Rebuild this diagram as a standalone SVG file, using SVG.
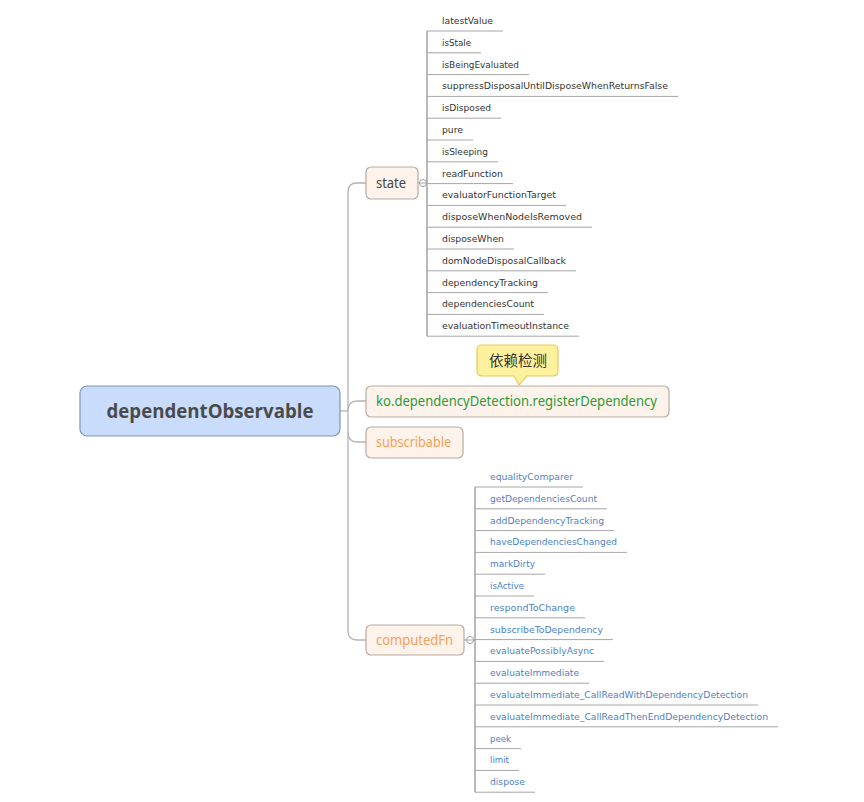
<svg xmlns="http://www.w3.org/2000/svg" width="864" height="802" viewBox="0 0 864 802">
<style>
.bg{fill:#ffffff}
.conn{fill:none;stroke:#b4b4b4;stroke-width:1.3}
.vline{fill:none;stroke:#8a8a8a;stroke-width:1.2}
.uline{fill:none;stroke:#a6a6a6;stroke-width:1}
.toggle{fill:#ffffff;stroke:#a0a0a0;stroke-width:1}
.root{fill:#c9dcfb;stroke:#7f93b3;stroke-width:1.2}
.sub{fill:#fdf3ea;stroke:#b5aca3;stroke-width:1.2}
.callout{fill:#fdf19d;stroke:#ebc75f;stroke-width:1.2}
.rootT{font-family:"Open Sans","Noto Sans",sans-serif;font-weight:bold;font-size:19px;fill:#4a4a4a}
.subT{font-family:"Noto Sans","Open Sans",sans-serif;font-size:14px}
.leaf{font-family:"DejaVu Sans","Liberation Sans",sans-serif;font-size:9px;fill:#333333}
.leafB{font-family:"DejaVu Sans","Liberation Sans",sans-serif;font-size:9px;fill:#4d7fc6}
.cjk{font-family:"Noto Sans CJK SC",sans-serif;font-size:14.5px;fill:#333333}
</style>
<rect class="bg" x="0" y="0" width="864" height="802"/>

<g id="connectors">
  <path class="conn" d="M340,411 H348"/>
  <path class="conn" d="M366,183 H357 Q348,183 348,192 V631 Q348,640 357,640 H366"/>
  <path class="conn" d="M348,411 Q348,401 357,401 H366"/>
  <path class="conn" d="M348,432 Q348,442 357,442 H366"/>
  <!-- state branch -->
  <path class="conn" d="M418,183 H427"/>
  <path class="vline" d="M427,31 V336.2"/>
  <!-- computedFn branch -->
  <path class="conn" d="M464,640 H475"/>
  <path class="vline" d="M475,487 V792.2"/>
</g>

<g id="root">
  <rect class="root" x="80" y="386" width="260" height="50" rx="7"/>
  <text class="rootT" x="210" y="418" text-anchor="middle" textLength="207" lengthAdjust="spacingAndGlyphs">dependentObservable</text>
</g>

<g id="state">
  <rect class="sub" x="366" y="167" width="52" height="32" rx="5"/>
  <text class="subT" x="391" y="188" text-anchor="middle" fill="#444444" textLength="30" lengthAdjust="spacingAndGlyphs">state</text>
  <circle class="toggle" cx="423" cy="183" r="3.5"/>
  <path class="uline" d="M419.5,183 H426.5"/>
</g>

<g id="state-children">
  <path class="uline" d="M427,31 H503"/><text class="leaf" x="442" y="24" textLength="51" lengthAdjust="spacingAndGlyphs">latestValue</text>
  <path class="uline" d="M427,52.8 H481"/><text class="leaf" x="442" y="45.8" textLength="29" lengthAdjust="spacingAndGlyphs">isStale</text>
  <path class="uline" d="M427,74.6 H529"/><text class="leaf" x="442" y="67.6" textLength="77" lengthAdjust="spacingAndGlyphs">isBeingEvaluated</text>
  <path class="uline" d="M427,96.4 H678"/><text class="leaf" x="442" y="89.4" textLength="226" lengthAdjust="spacingAndGlyphs">suppressDisposalUntilDisposeWhenReturnsFalse</text>
  <path class="uline" d="M427,118.2 H501"/><text class="leaf" x="442" y="111.2" textLength="49" lengthAdjust="spacingAndGlyphs">isDisposed</text>
  <path class="uline" d="M427,140 H473"/><text class="leaf" x="442" y="133" textLength="21" lengthAdjust="spacingAndGlyphs">pure</text>
  <path class="uline" d="M427,161.8 H498"/><text class="leaf" x="442" y="154.8" textLength="46" lengthAdjust="spacingAndGlyphs">isSleeping</text>
  <path class="uline" d="M427,183.6 H513"/><text class="leaf" x="442" y="176.6" textLength="61" lengthAdjust="spacingAndGlyphs">readFunction</text>
  <path class="uline" d="M427,205.4 H566"/><text class="leaf" x="442" y="198.4" textLength="114" lengthAdjust="spacingAndGlyphs">evaluatorFunctionTarget</text>
  <path class="uline" d="M427,227.2 H592"/><text class="leaf" x="442" y="220.2" textLength="140" lengthAdjust="spacingAndGlyphs">disposeWhenNodeIsRemoved</text>
  <path class="uline" d="M427,249 H514"/><text class="leaf" x="442" y="242" textLength="62" lengthAdjust="spacingAndGlyphs">disposeWhen</text>
  <path class="uline" d="M427,270.8 H576"/><text class="leaf" x="442" y="263.8" textLength="124" lengthAdjust="spacingAndGlyphs">domNodeDisposalCallback</text>
  <path class="uline" d="M427,292.6 H548"/><text class="leaf" x="442" y="285.6" textLength="96" lengthAdjust="spacingAndGlyphs">dependencyTracking</text>
  <path class="uline" d="M427,314.4 H544"/><text class="leaf" x="442" y="307.4" textLength="92" lengthAdjust="spacingAndGlyphs">dependenciesCount</text>
  <path class="uline" d="M427,336.2 H579"/><text class="leaf" x="442" y="329.2" textLength="127" lengthAdjust="spacingAndGlyphs">evaluationTimeoutInstance</text>
</g>

<g id="ko-register">
  <rect class="sub" x="366" y="386" width="303" height="31" rx="5"/>
  <text class="subT" x="376" y="406" fill="#2b9a3a" textLength="281" lengthAdjust="spacingAndGlyphs">ko.dependencyDetection.registerDependency</text>
</g>

<g id="callout">
  <path class="callout" d="M482,345 H553 Q558,345 558,350 V371 Q558,376 553,376 H527 L519,385 L514,376 H482 Q477,376 477,371 V350 Q477,345 482,345 Z"/>
  <text class="cjk" x="518" y="366" text-anchor="middle">依赖检测</text>
</g>

<g id="subscribable">
  <rect class="sub" x="366" y="427" width="97" height="31" rx="5"/>
  <text class="subT" x="376" y="447" fill="#f6a05a" textLength="75" lengthAdjust="spacingAndGlyphs">subscribable</text>
</g>

<g id="computedFn">
  <rect class="sub" x="366" y="625" width="98" height="30" rx="5"/>
  <text class="subT" x="376" y="645" fill="#f6a05a" textLength="77" lengthAdjust="spacingAndGlyphs">computedFn</text>
  <circle class="toggle" cx="470" cy="640" r="3.5"/>
  <path class="uline" d="M466.5,640 H474.5"/>
</g>

<g id="computedFn-children">
  <path class="uline" d="M475,487 H583"/><text class="leafB" x="490" y="480" textLength="83" lengthAdjust="spacingAndGlyphs">equalityComparer</text>
  <path class="uline" d="M475,508.8 H607"/><text class="leafB" x="490" y="501.8" textLength="107" lengthAdjust="spacingAndGlyphs">getDependenciesCount</text>
  <path class="uline" d="M475,530.6 H614"/><text class="leafB" x="490" y="523.6" textLength="114" lengthAdjust="spacingAndGlyphs">addDependencyTracking</text>
  <path class="uline" d="M475,552.4 H627"/><text class="leafB" x="490" y="545.4" textLength="127" lengthAdjust="spacingAndGlyphs">haveDependenciesChanged</text>
  <path class="uline" d="M475,574.2 H545"/><text class="leafB" x="490" y="567.2" textLength="45" lengthAdjust="spacingAndGlyphs">markDirty</text>
  <path class="uline" d="M475,596 H534"/><text class="leafB" x="490" y="589" textLength="34" lengthAdjust="spacingAndGlyphs">isActive</text>
  <path class="uline" d="M475,617.8 H585"/><text class="leafB" x="490" y="610.8" textLength="85" lengthAdjust="spacingAndGlyphs">respondToChange</text>
  <path class="uline" d="M475,639.6 H613"/><text class="leafB" x="490" y="632.6" textLength="113" lengthAdjust="spacingAndGlyphs">subscribeToDependency</text>
  <path class="uline" d="M475,661.4 H604"/><text class="leafB" x="490" y="654.4" textLength="104" lengthAdjust="spacingAndGlyphs">evaluatePossiblyAsync</text>
  <path class="uline" d="M475,683.2 H589"/><text class="leafB" x="490" y="676.2" textLength="89" lengthAdjust="spacingAndGlyphs">evaluateImmediate</text>
  <path class="uline" d="M475,705 H758"/><text class="leafB" x="490" y="698" textLength="258" lengthAdjust="spacingAndGlyphs">evaluateImmediate_CallReadWithDependencyDetection</text>
  <path class="uline" d="M475,726.8 H778"/><text class="leafB" x="490" y="719.8" textLength="278" lengthAdjust="spacingAndGlyphs">evaluateImmediate_CallReadThenEndDependencyDetection</text>
  <path class="uline" d="M475,748.6 H521"/><text class="leafB" x="490" y="741.6" textLength="21" lengthAdjust="spacingAndGlyphs">peek</text>
  <path class="uline" d="M475,770.4 H519"/><text class="leafB" x="490" y="763.4" textLength="19" lengthAdjust="spacingAndGlyphs">limit</text>
  <path class="uline" d="M475,792.2 H535"/><text class="leafB" x="490" y="785.2" textLength="35" lengthAdjust="spacingAndGlyphs">dispose</text>
</g>
</svg>
